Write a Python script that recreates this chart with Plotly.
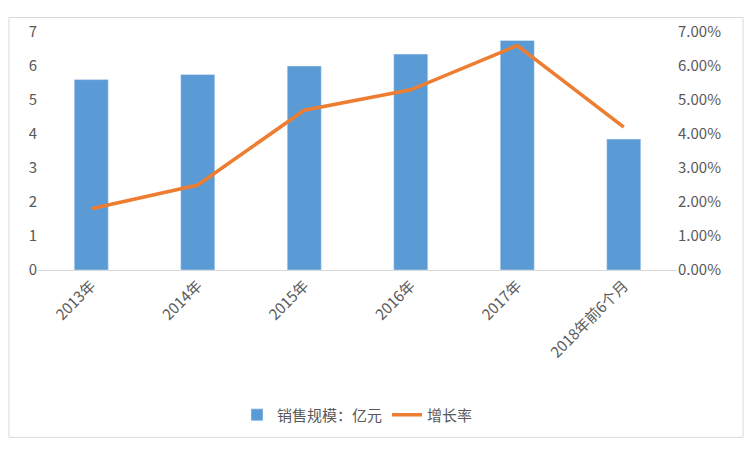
import plotly.graph_objects as go

years = ["2013年", "2014年", "2015年", "2016年", "2017年", "2018年前6个月"]
sales = [5.6, 5.75, 6.0, 6.35, 6.75, 3.85]
growth = [0.018, 0.025, 0.047, 0.053, 0.066, 0.042]

font = "Noto Sans CJK SC"
grey = "#595959"

# page adds ~8px margin, so size the figure to fit inside the window
W, H = 736, 436
L, R, T, B = 30, 67, 16, 174
pw, ph = W - L - R, H - T - B

fig = go.Figure()
fig.add_trace(go.Bar(x=years, y=sales, name="销售规模：亿元",
                     marker_color="#5B9BD5", width=0.32))
fig.add_trace(go.Scatter(x=years, y=growth, name="增长率", yaxis="y2",
                         mode="lines", line=dict(color="#ED7D31", width=3.5)))

fig.update_layout(
    width=W, height=H,
    margin=dict(l=L, r=R, t=T, b=B),
    paper_bgcolor="white", plot_bgcolor="white",
    font=dict(family=font, size=15, color=grey),
    showlegend=True,
    legend=dict(orientation="h", x=0.5, xanchor="center", y=-150/ph, yanchor="middle",
                font=dict(size=15, color=grey)),
    xaxis=dict(tickangle=-45, showline=True, linecolor="#D9D9D9", ticks=""),
    yaxis=dict(range=[0, 7], dtick=1, showgrid=False, zeroline=False, ticks=""),
    yaxis2=dict(range=[0, 0.07], dtick=0.01, tickformat=".2%", overlaying="y",
                side="right", showgrid=False, zeroline=False),
    shapes=[dict(type="rect", xref="paper", yref="paper", x0=-(L - 1) / pw, x1=1 + (R - 1) / pw,
                 y0=-(B - 1) / ph, y1=1 + (T - 1) / ph, line=dict(color="#D9D9D9", width=1))],
)

fig.write_html("out.html")
